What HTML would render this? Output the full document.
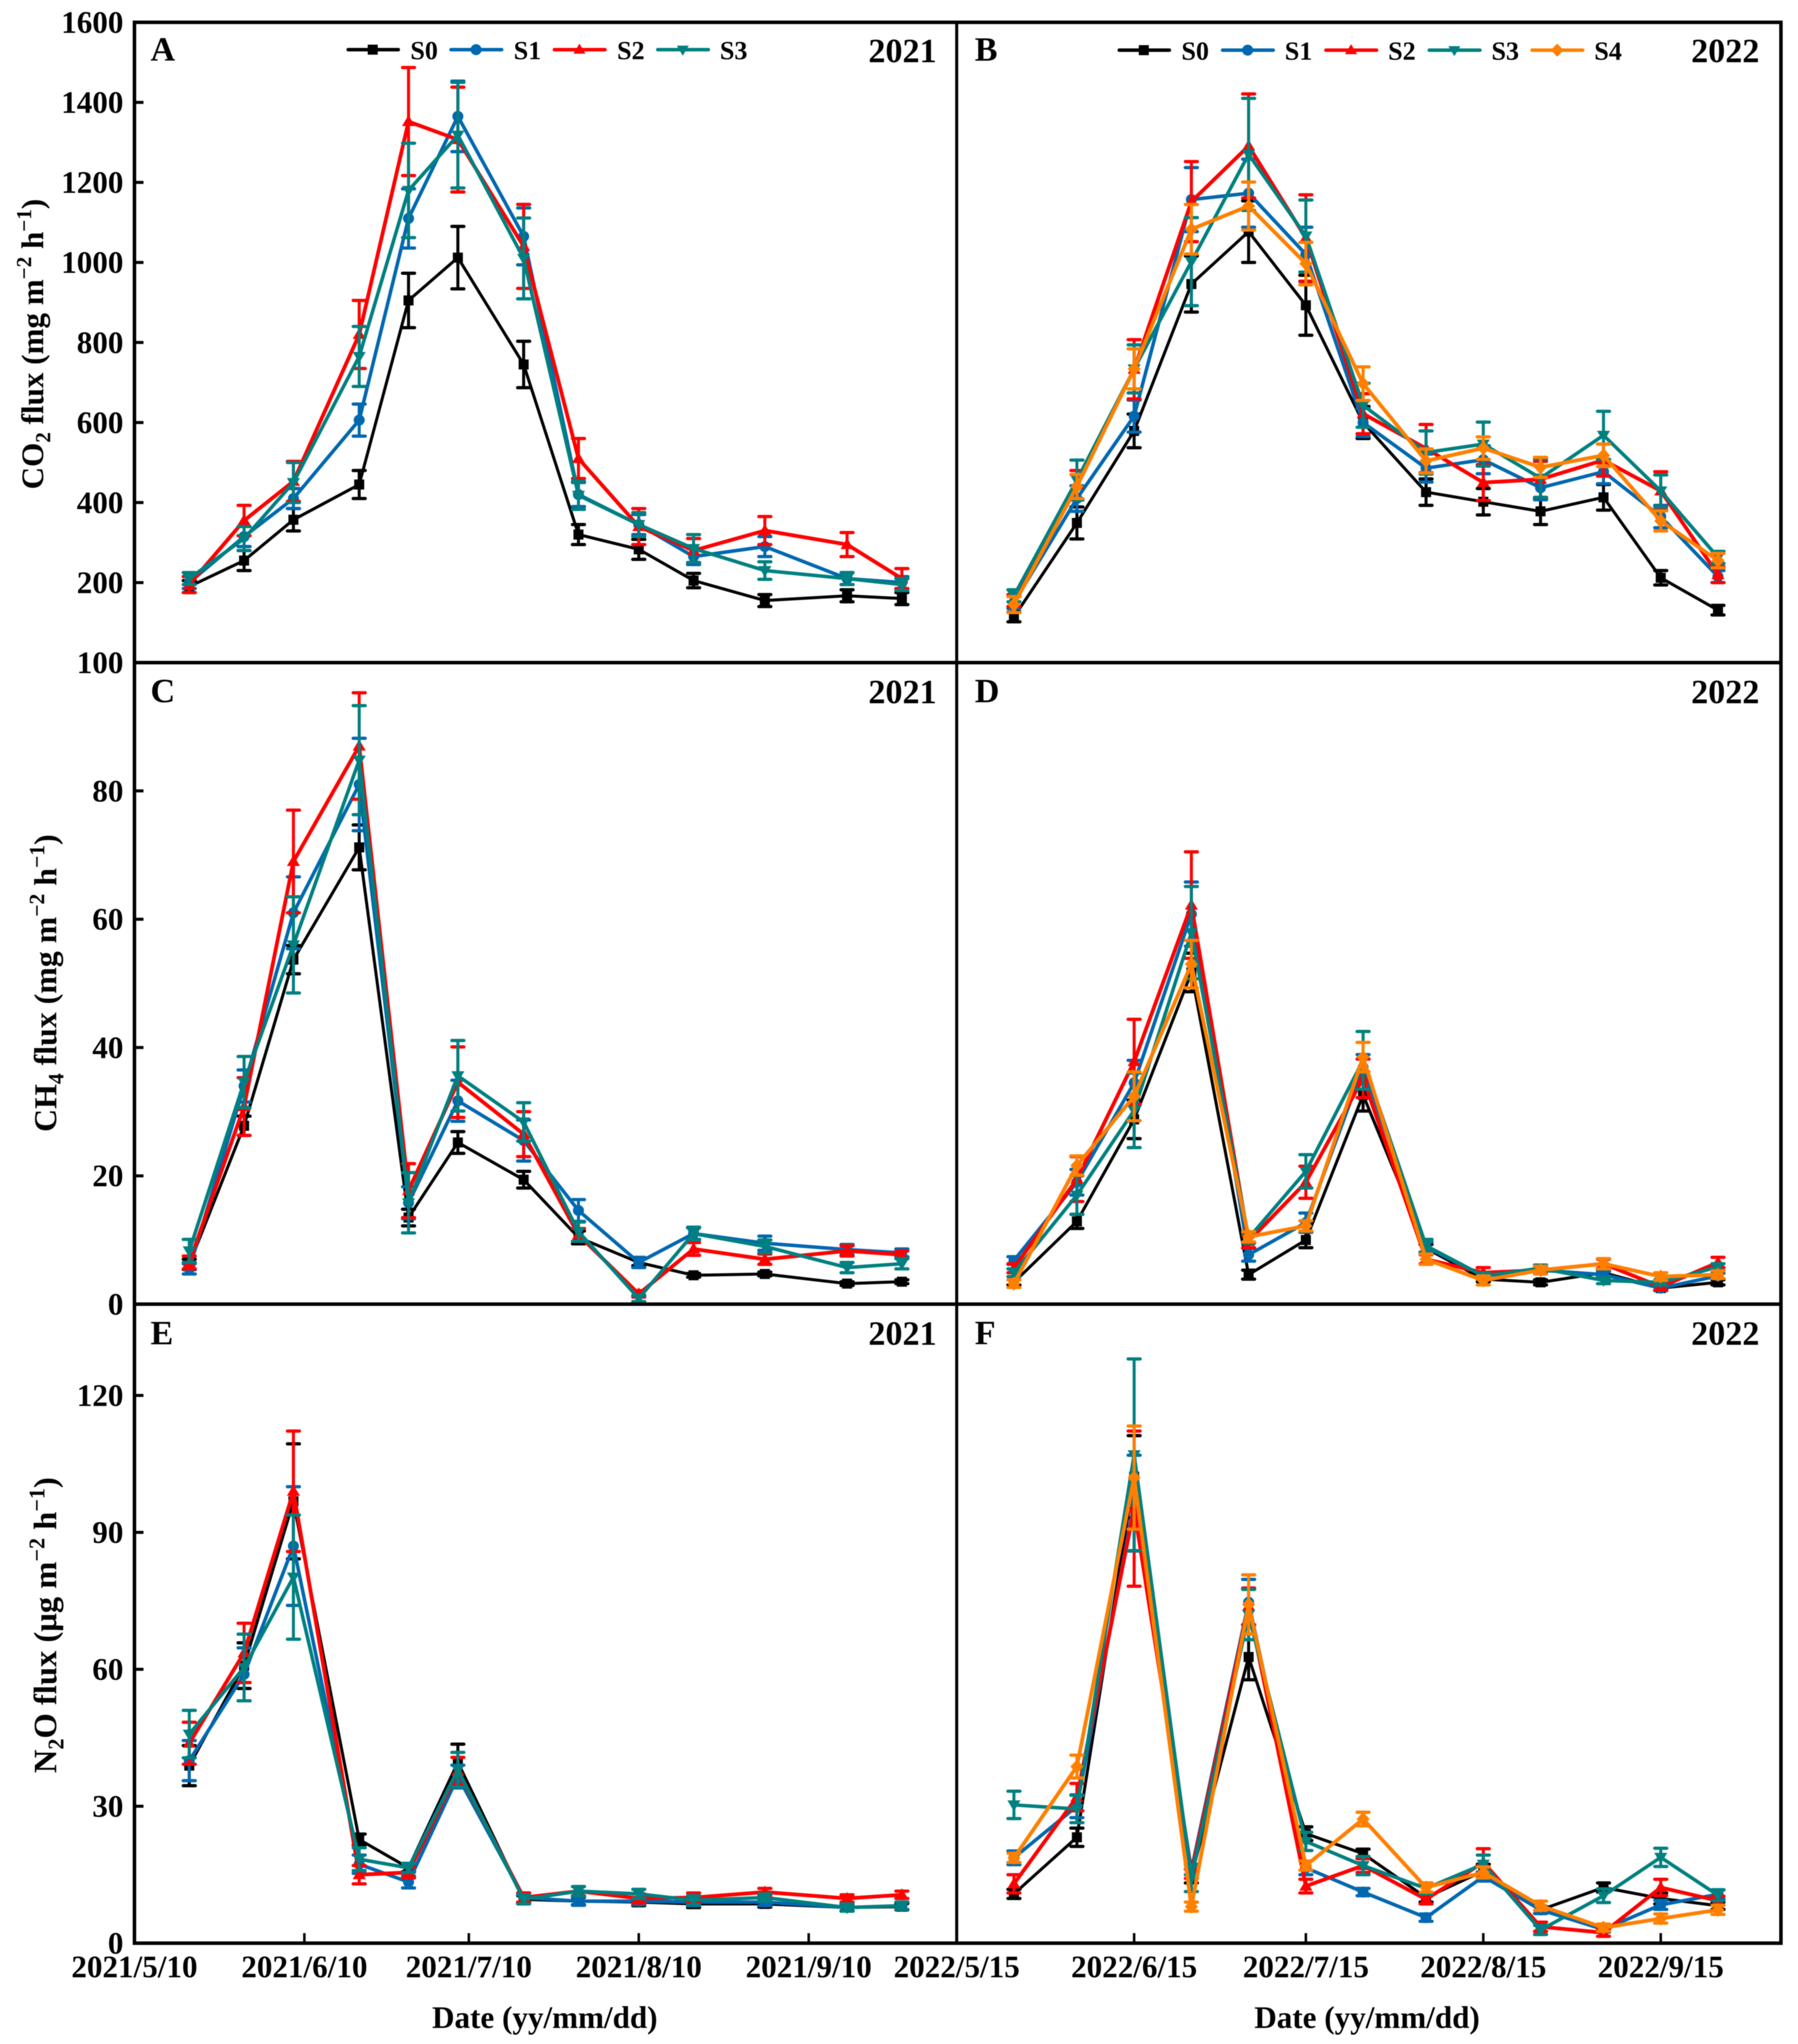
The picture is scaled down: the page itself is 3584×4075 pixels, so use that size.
<!DOCTYPE html>
<html lang="en">
<head>
<meta charset="utf-8">
<title>CO2, CH4 and N2O flux 2021-2022</title>
<style>
html,body{margin:0;padding:0;background:#fff}
svg{display:block;filter:blur(0.8px)}
text{font-family:"Liberation Serif",serif;font-weight:bold;fill:#000}
</style>
</head>
<body>
<svg id="chart" xmlns="http://www.w3.org/2000/svg" width="3584" height="4075" viewBox="0 0 3584 4075">
  <rect x="0" y="0" width="3584" height="4075" fill="#fff"/>
  <g id="series-layer"></g>
  <g id="tick-layer"></g>
  <g fill="none" stroke="#000">
    <rect x="268" y="44.5" width="3282" height="3829.5" stroke-width="7"/>
    <line x1="1907" y1="44" x2="1907" y2="3874" stroke-width="6"/>
    <line x1="268" y1="1321" x2="3550" y2="1321" stroke-width="7"/>
    <line x1="268" y1="2600" x2="3550" y2="2600" stroke-width="7"/>
  </g>

  <g font-size="68">
    <text x="300" y="121">A</text>
    <text x="1943" y="121">B</text>
    <text x="300" y="1400">C</text>
    <text x="1943" y="1400">D</text>
    <text x="300" y="2680">E</text>
    <text x="1943" y="2680">F</text>
  </g>
  <g font-size="68" text-anchor="end">
    <text x="1867" y="124">2021</text>
    <text x="3507" y="124">2022</text>
    <text x="1867" y="1402">2021</text>
    <text x="3507" y="1402">2022</text>
    <text x="1867" y="2681">2021</text>
    <text x="3507" y="2681">2022</text>
  </g>

  <g font-size="52">
    <g>
      <line x1="694" y1="99" x2="794" y2="99" stroke="#000" stroke-width="7" stroke-linecap="round"/>
      <rect x="733" y="89" width="20" height="20" fill="#000"/>
      <text x="818" y="118">S0</text>
    </g>
    <g>
      <line x1="899" y1="99" x2="1000" y2="99" stroke="#0068b0" stroke-width="7" stroke-linecap="round"/>
      <circle cx="949" cy="99" r="11" fill="#0068b0"/>
      <text x="1024" y="118">S1</text>
    </g>
    <g>
      <line x1="1105" y1="99" x2="1206" y2="99" stroke="#ff0000" stroke-width="7" stroke-linecap="round"/>
      <polygon points="1155,87 1167,107 1143,107" fill="#ff0000"/>
      <text x="1230" y="118">S2</text>
    </g>
    <g>
      <line x1="1311" y1="99" x2="1412" y2="99" stroke="#008080" stroke-width="7" stroke-linecap="round"/>
      <polygon points="1361,111 1373,91 1349,91" fill="#008080"/>
      <text x="1435" y="118">S3</text>
    </g>
  </g>

  <g font-size="52">
    <g>
      <line x1="2231" y1="100" x2="2331" y2="100" stroke="#000" stroke-width="7" stroke-linecap="round"/>
      <rect x="2270" y="90" width="20" height="20" fill="#000"/>
      <text x="2355" y="119">S0</text>
    </g>
    <g>
      <line x1="2437" y1="100" x2="2538" y2="100" stroke="#0068b0" stroke-width="7" stroke-linecap="round"/>
      <circle cx="2487" cy="100" r="11" fill="#0068b0"/>
      <text x="2561" y="119">S1</text>
    </g>
    <g>
      <line x1="2643" y1="100" x2="2744" y2="100" stroke="#ff0000" stroke-width="7" stroke-linecap="round"/>
      <polygon points="2693,88 2705,108 2681,108" fill="#ff0000"/>
      <text x="2767" y="119">S2</text>
    </g>
    <g>
      <line x1="2849" y1="100" x2="2950" y2="100" stroke="#008080" stroke-width="7" stroke-linecap="round"/>
      <polygon points="2899,112 2911,92 2887,92" fill="#008080"/>
      <text x="2973" y="119">S3</text>
    </g>
    <g>
      <line x1="3054" y1="100" x2="3155" y2="100" stroke="#ff8000" stroke-width="7" stroke-linecap="round"/>
      <polygon points="3104,87 3117,100 3104,113 3091,100" fill="#ff8000"/>
      <text x="3178" y="119">S4</text>
    </g>
  </g>

  <g>
    <text transform="translate(86,686) rotate(-90)" font-size="62" text-anchor="middle">CO<tspan font-size="42" dy="14">2</tspan><tspan dy="-14"> flux (mg m</tspan><tspan font-size="42" dy="-24">−2</tspan><tspan dy="24"> h</tspan><tspan font-size="42" dy="-24">−1</tspan><tspan dy="24">)</tspan></text>
    <text transform="translate(112,1960) rotate(-90)" font-size="63.5" text-anchor="middle">CH<tspan font-size="43" dy="14">4</tspan><tspan dy="-14"> flux (mg m</tspan><tspan font-size="43" dy="-24">−2</tspan><tspan dy="24"> h</tspan><tspan font-size="43" dy="-24">−1</tspan><tspan dy="24">)</tspan></text>
    <text transform="translate(112,3240) rotate(-90)" font-size="65" text-anchor="middle">N<tspan font-size="44" dy="14">2</tspan><tspan dy="-14">O flux (μg m</tspan><tspan font-size="44" dy="-24">−2</tspan><tspan dy="24"> h</tspan><tspan font-size="44" dy="-24">−1</tspan><tspan dy="24">)</tspan></text>
    <text x="1086" y="4043" font-size="62" text-anchor="middle">Date (yy/mm/dd)</text>
    <text x="2725" y="4043" font-size="62" text-anchor="middle">Date (yy/mm/dd)</text>
  </g>
</svg>

<script>
// ---- categories ----
const dates2021 = ['2021-05-20','2021-05-30','2021-06-08','2021-06-20','2021-06-29','2021-07-08','2021-07-20','2021-07-30','2021-08-10','2021-08-20','2021-09-02','2021-09-17','2021-09-27'];
const dates2022 = ['2022-05-25','2022-06-05','2022-06-15','2022-06-25','2022-07-05','2022-07-15','2022-07-25','2022-08-05','2022-08-15','2022-08-25','2022-09-05','2022-09-15','2022-09-25'];

// ---- tick values and labels ----
const xTicks2021 = ['2021-05-10','2021-06-10','2021-07-10','2021-08-10','2021-09-10'];
const xTickLabels2021 = ['2021/5/10','2021/6/10','2021/7/10','2021/8/10','2021/9/10'];
const xTicks2022 = ['2022-05-15','2022-06-15','2022-07-15','2022-08-15','2022-09-15'];
const xTickLabels2022 = ['2022/5/15','2022/6/15','2022/7/15','2022/8/15','2022/9/15'];
const co2Ticks = [200,400,600,800,1000,1200,1400,1600];
const ch4Ticks = [0,20,40,60,80,100];
const n2oTicks = [0,30,60,90,120];

// ---- panel A: CO2 2021 ----
const aS0 = [190,255,357,445,905,1012,745,320,283,205,155,167,160];
const aS0Err = [15,25,28,35,68,78,58,25,25,18,15,15,15];
const aS1 = [200,315,410,606,1110,1365,1065,420,345,265,290,210,200];
const aS1Err = [15,25,25,40,74,88,71,30,25,20,25,15,15];
const aS2 = [195,355,453,820,1352,1307,1040,510,340,280,330,295,210];
const aS2Err = [20,38,50,85,135,131,105,50,45,30,35,30,25];
const aS3 = [210,310,450,765,1180,1318,1010,418,345,285,230,210,195];
const aS3Err = [15,30,50,75,118,132,101,35,30,35,22,15,15];

// ---- panel B: CO2 2022 ----
const bS0 = [114,349,579,946,1077,893,600,426,402,378,413,212,131];
const bS0Err = [12,40,42,70,77,75,40,33,33,33,32,18,12];
const bS1 = [150,410,616,1157,1173,1020,600,486,507,437,477,365,215];
const bS1Err = [15,32,40,80,85,68,35,35,35,30,30,28,15];
const bS2 = [155,445,733,1152,1291,1061,622,535,450,458,506,429,220];
const bS2Err = [15,35,74,100,130,108,50,60,45,45,40,48,20];
const bS3 = [167,456,734,1002,1270,1066,643,525,546,461,568,429,263];
const bS3Err = [15,50,60,110,140,90,55,54,55,48,60,40,15];
const bS4 = [145,440,734,1083,1141,997,697,504,536,488,518,354,255];
const bS4Err = [20,30,50,62,60,53,42,30,28,25,28,25,18];

// ---- panel C: CH4 2021 ----
const cS0 = [6.2,27.8,53.7,71.2,13.5,25.2,19.4,10.4,6.5,4.5,4.7,3.2,3.5];
const cS0Err = [0.8,1.5,2.2,3.5,1.3,1.7,1.3,1,0.5,0.3,0.3,0.3,0.3];
const cS1 = [5.5,34,61,81,15.8,31.7,25.5,14.6,6.5,11,9.5,8.5,8];
const cS1Err = [0.8,2.5,5.6,7.2,2.5,3.2,3.2,1.7,0.8,0.9,1.1,0.8,0.6];
const cS2 = [6.5,30.8,69,87,17.7,34.6,26.5,10.8,1.6,8.6,7,8.3,7.7];
const cS2Err = [1,4.5,8,8.3,4.2,5.5,3.5,1,0.5,1,0.8,0.8,0.6];
const cS3 = [8.3,34.6,56,84.8,15.8,35.6,28.4,11.3,0.9,11,9,5.7,6.3];
const cS3Err = [1.8,4,7.5,8.5,4.7,5.5,3,1.5,0.5,1,1,0.8,0.8];

// ---- panel D: CH4 2022 ----
const dS0 = [3.4,12.9,28.8,51.7,4.6,10,32.6,8.7,3.9,3.4,4.9,2.5,3.4];
const dS0Err = [0.4,1.1,3,3,0.7,1.2,2.5,0.6,0.4,0.4,0.5,0.3,0.4];
const dS1 = [6.8,19,34.5,60.8,7.7,12.7,36.9,8.9,4.4,5.3,4.6,2.5,4.4];
const dS1Err = [0.6,2,3.5,5,1,1.5,2,0.8,0.5,0.4,0.5,0.4,0.4];
const dS2 = [5.6,19.5,37.8,62.2,9.8,19,35.2,7,4.9,5.3,6.3,2.7,6.5];
const dS2Err = [0.7,3.5,6.6,8.3,1,2.5,3,0.7,0.8,0.5,0.7,0.5,0.8];
const dS3 = [4.9,17,30.2,57.9,10.3,20.7,38,9.1,4.4,5.6,3.7,3.4,5.8];
const dS3Err = [0.6,3,5.8,7.2,0.8,2.6,4.5,1,0.5,0.5,0.5,0.4,0.5];
const dS4 = [3.2,21.6,32.4,53,10.5,12.2,38.5,7,3.7,5.3,6.3,4.3,4.6];
const dS4Err = [0.6,1.5,3.8,3.7,0.8,0.8,2.3,0.8,0.7,0.6,0.8,0.6,0.6];

// ---- panel E: N2O 2021 ----
const eS0 = [38.9,60.8,96.8,22.7,16.5,39.6,9.6,9.2,9,8.6,8.6,7.8,8];
const eS0Err = [4.4,5,12.6,1.2,0.8,4,0.8,0.8,0.8,0.8,0.7,0.7,0.7];
const eS1 = [40,58.9,87,17.3,13.4,36.5,10,9.2,9.2,9,9,7.8,8.2];
const eS1Err = [4.4,5.8,13,2,1.3,2.5,1,0.9,0.8,0.8,0.8,0.8,0.8];
const eS2 = [43.8,63.6,99,15,15.5,37.7,10,11.4,9.8,10,11.2,9.8,10.6];
const eS2Err = [4.6,6.5,13.2,2,1.2,3,1,1,1,1,0.8,0.8,0.8];
const eS3 = [45.8,60.4,80.2,18.4,16.5,38,9.6,11.4,10.8,9.4,10,7.8,8.2];
const eS3Err = [5.2,7.3,13.6,2.5,1,3.8,1,1,1,1,0.8,0.8,0.8];

// ---- panel F: N2O 2022 ----
const fS0 = [10.8,23.2,102.2,14.7,62.7,24,19.6,10,15.8,7.3,12.2,9.8,8.2];
const fS0Err = [1,2,9,1.5,5,1.5,1,1,1.5,0.8,1,1.2,0.8];
const fS1 = [18.7,30,96.4,16,74.7,16.5,11.2,5.6,14.6,7.3,3,8.4,10.7];
const fS1Err = [1.5,2.5,10.5,1,5,1.5,0.8,0.8,1,0.8,0.6,1,1];
const fS2 = [13,32,95.2,15.2,73.8,12.5,17,9.6,17.7,3.6,2.3,12.2,9.3];
const fS2Err = [2,3,17,1,4,1.5,1.5,1,3,1,0.8,1.8,1];
const fS3 = [30.3,29.4,107,14.3,72,22.3,17,12,17.3,2.9,10.4,18.8,10.5];
const fS3Err = [3,3,21,3,5.5,2,2,1.2,2,1,1.5,2,1.2];
const fS4 = [18.7,38.7,102,8,74.2,17,27.2,12.2,15.5,8.2,3.4,5.4,7.3];
const fS4Err = [1,2.5,11.3,1,6.5,1,1.5,1,1.2,1,0.8,1,1];

// ---- layout and rendering ----
const NS = 'http://www.w3.org/2000/svg';
const seriesLayer = document.getElementById('series-layer');
const tickLayer = document.getElementById('tick-layer');
const styles = {
  S0:{color:'#000000',width:6,shape:'square'},
  S1:{color:'#0068b0',width:7,shape:'circle'},
  S2:{color:'#ff0000',width:7.5,shape:'up'},
  S3:{color:'#008080',width:7,shape:'down'},
  S4:{color:'#ff8000',width:7.5,shape:'diamond'}
};
const left = {x0:268,x1:1907,start:'2021-05-10',end:'2021-10-07',dates:dates2021};
const right = {x0:1907,x1:3550,start:'2022-05-15',end:'2022-10-06',dates:dates2022};
const panels = [
  {id:'a',col:left,top:44.5,bottom:1321,max:1600,ticks:co2Ticks,series:{S0:[aS0,aS0Err],S1:[aS1,aS1Err],S2:[aS2,aS2Err],S3:[aS3,aS3Err]}},
  {id:'b',col:right,top:44.5,bottom:1321,max:1600,ticks:null,series:{S0:[bS0,bS0Err],S1:[bS1,bS1Err],S2:[bS2,bS2Err],S3:[bS3,bS3Err],S4:[bS4,bS4Err]}},
  {id:'c',col:left,top:1321,bottom:2600,max:100,ticks:ch4Ticks,series:{S0:[cS0,cS0Err],S1:[cS1,cS1Err],S2:[cS2,cS2Err],S3:[cS3,cS3Err]}},
  {id:'d',col:right,top:1321,bottom:2600,max:100,ticks:null,series:{S0:[dS0,dS0Err],S1:[dS1,dS1Err],S2:[dS2,dS2Err],S3:[dS3,dS3Err],S4:[dS4,dS4Err]}},
  {id:'e',col:left,top:2600,bottom:3874,max:140,ticks:n2oTicks,series:{S0:[eS0,eS0Err],S1:[eS1,eS1Err],S2:[eS2,eS2Err],S3:[eS3,eS3Err]}},
  {id:'f',col:right,top:2600,bottom:3874,max:140,ticks:null,series:{S0:[fS0,fS0Err],S1:[fS1,fS1Err],S2:[fS2,fS2Err],S3:[fS3,fS3Err],S4:[fS4,fS4Err]}}
];

function svgEl(tag, parent){
  const el = document.createElementNS(NS, tag);
  parent.appendChild(el);
  return el;
}
function dayNumber(str){
  const p = str.split('-').map(Number);
  return Date.UTC(p[0], p[1]-1, p[2]) / 86400000;
}
function xScale(col, date){
  const a = dayNumber(col.start), b = dayNumber(col.end);
  return col.x0 + (dayNumber(date) - a) / (b - a) * (col.x1 - col.x0);
}
function yScale(panel, value){
  return panel.bottom - value / panel.max * (panel.bottom - panel.top);
}
function setLine(el, x1, y1, x2, y2, color, width){
  el.setAttribute('x1', x1);
  el.setAttribute('y1', y1);
  el.setAttribute('x2', x2);
  el.setAttribute('y2', y2);
  el.setAttribute('stroke', color);
  el.setAttribute('stroke-width', width);
}
function drawMarker(group, shape, cx, cy, color){
  let el;
  if (shape === 'square') {
    el = svgEl('rect', group);
    el.setAttribute('x', cx - 10);
    el.setAttribute('y', cy - 10);
    el.setAttribute('width', 20);
    el.setAttribute('height', 20);
  } else if (shape === 'circle') {
    el = svgEl('circle', group);
    el.setAttribute('cx', cx);
    el.setAttribute('cy', cy);
    el.setAttribute('r', 11);
  } else {
    el = svgEl('polygon', group);
    let pts;
    if (shape === 'up') pts = [[cx,cy-13],[cx+13,cy+9],[cx-13,cy+9]];
    else if (shape === 'down') pts = [[cx,cy+13],[cx+13,cy-9],[cx-13,cy-9]];
    else pts = [[cx,cy-14],[cx+13,cy],[cx,cy+14],[cx-13,cy]];
    el.setAttribute('points', pts.map(function(p){return p.join(',');}).join(' '));
  }
  el.setAttribute('fill', color);
  
  
}
function drawSeries(panel, name){
  const style = styles[name];
  const values = panel.series[name][0];
  const errors = panel.series[name][1];
  const dates = panel.col.dates;
  const group = svgEl('g', seriesLayer);
  
  
  const xs = dates.map(function(d){return xScale(panel.col, d);});
  const ys = values.map(function(v){return yScale(panel, v);});
  const line = svgEl('polyline', group);
  line.setAttribute('points', xs.map(function(x,i){return x.toFixed(1) + ',' + ys[i].toFixed(1);}).join(' '));
  line.setAttribute('fill', 'none');
  line.setAttribute('stroke', style.color);
  line.setAttribute('stroke-width', style.width);
  line.setAttribute('stroke-linejoin', 'round');
  
  
  values.forEach(function(v, i){
    const hi = yScale(panel, v + errors[i]);
    const lo = yScale(panel, v - errors[i]);
    const stem = svgEl('line', group);
    setLine(stem, xs[i], hi, xs[i], lo, style.color, 6);
    
    
    const capTop = svgEl('line', group);
    setLine(capTop, xs[i] - 12, hi, xs[i] + 12, hi, style.color, 6.5);
    capTop.setAttribute('stroke-linecap', 'round');
    
    
    const capBottom = svgEl('line', group);
    setLine(capBottom, xs[i] - 12, lo, xs[i] + 12, lo, style.color, 6.5);
    capBottom.setAttribute('stroke-linecap', 'round');
    
    
    drawMarker(group, style.shape, xs[i], ys[i], style.color);
  });
}
function drawYTicks(panel){
  panel.ticks.forEach(function(t){
    const y = yScale(panel, t);
    if (t > 0 && t < panel.max) {
      const tick = svgEl('line', tickLayer);
      setLine(tick, panel.col.x0, y, panel.col.x0 + 18, y, '#000', 6);
      
      
    }
    const label = svgEl('text', tickLayer);
    label.setAttribute('x', 246);
    label.setAttribute('y', y + 21);
    label.setAttribute('font-size', 62);
    label.setAttribute('text-anchor', 'end');
    
    
    label.textContent = String(t);
  });
}
function drawXTicks(col, ticks, labels, bottom){
  ticks.forEach(function(t, i){
    const x = xScale(col, t);
    if (i > 0) {
      const tick = svgEl('line', tickLayer);
      setLine(tick, x, bottom, x, bottom - 20, '#000', 5);
      
      
    }
    const label = svgEl('text', tickLayer);
    label.setAttribute('x', x);
    label.setAttribute('y', 3942);
    label.setAttribute('font-size', 62);
    label.setAttribute('text-anchor', 'middle');
    
    
    label.textContent = labels[i];
  });
}
panels.forEach(function(panel){
  Object.keys(panel.series).forEach(function(name){ drawSeries(panel, name); });
  if (panel.ticks) drawYTicks(panel);
});
drawXTicks(left, xTicks2021, xTickLabels2021, 3874);
drawXTicks(right, xTicks2022, xTickLabels2022, 3874);
</script>
</body>
</html>
